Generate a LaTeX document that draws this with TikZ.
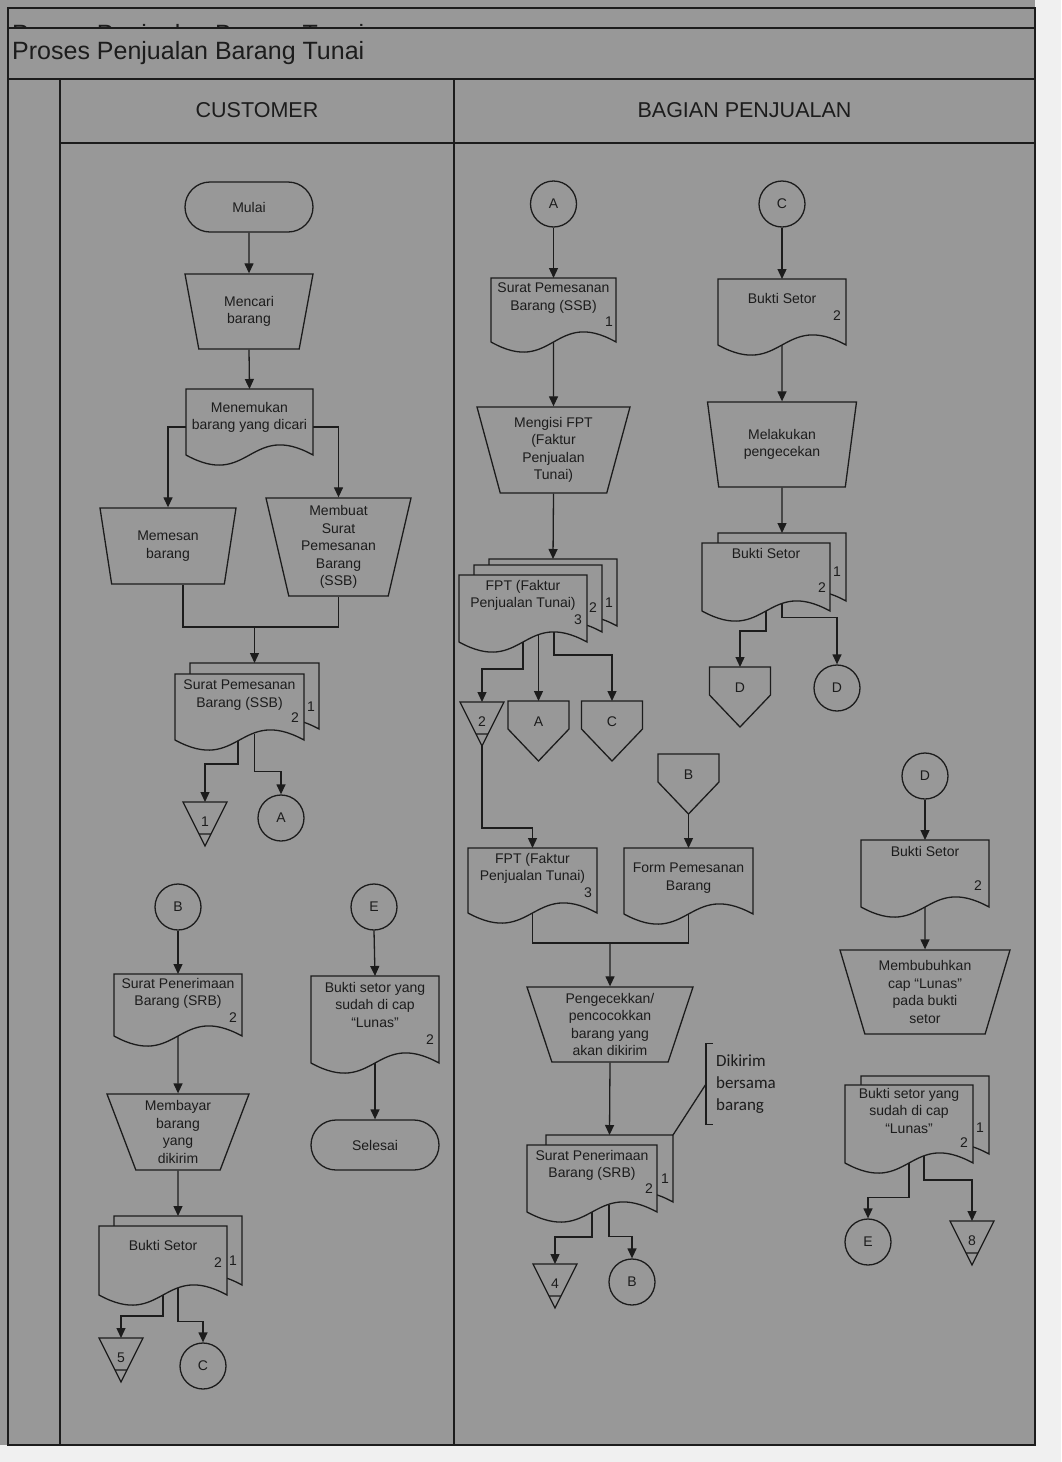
\documentclass[tikz,border=0pt]{standalone}
\usepackage{fontspec}
\setmainfont{Liberation Sans}
\newfontfamily\notefont{Carlito}
\usetikzlibrary{arrows.meta}
\usetikzlibrary{shapes.geometric}
\usetikzlibrary{calc}
\definecolor{paper}{RGB}{152,152,152}
\definecolor{ink}{RGB}{28,28,28}
\definecolor{page}{RGB}{240,240,240}
\pgfdeclarelayer{back}
\pgfdeclarelayer{wires}
\pgfsetlayers{back,wires,main}

% one sheet of a document symbol: name, left, top, width, height
\newcommand{\sheet}[5]{%
	\draw[outline] (#2,#3+#5) -- (#2,#3) -- (#2+#4,#3) -- (#2+#4,#3+#5)
		.. controls (#2+#4/2,#3+#5-35) and (#2+#4/2,#3+#5+35) .. (#2,#3+#5) -- cycle;
	\coordinate (#1) at (#2+#4/2,#3);
}
% front sheet with its text: name, left, top, width, height, text gap, text
\newcommand{\docu}[7]{%
	\sheet{#1-s}{#2}{#3}{#4}{#5}
	\node[txt, anchor=north, minimum width=#4, inner xsep=0pt, inner ysep=#6] (#1) at (#2+#4/2,#3) {#7};
}

\begin{document}
\begin{tikzpicture}[x=1pt, y=-1pt,
	txt/.style={font=\fontsize{14}{17.5}\selectfont, text=ink, align=center},
	outline/.style={draw=ink, line width=1.3pt, fill=paper},
	rim/.style={draw=ink, line width=1.3pt},
	lane/.style={draw=ink, line width=1.5pt},
	term/.style={outline, txt, rectangle, rounded corners=25pt, minimum width=128pt, minimum height=50pt},
	conn/.style={outline, txt, circle, minimum size=46pt, inner sep=0pt},
	manop/.style={outline, txt, trapezium, shape border rotate=180, trapezium stretches body=true,
		trapezium left angle=#1, trapezium right angle=#1, inner sep=1pt},
	flow/.style={draw=ink, line width=1.3pt, -{Triangle[length=10pt,width=9pt]}},
	wire/.style={draw=ink, line width=1.3pt},
	title/.style={font=\fontsize{25}{30}\selectfont, text=ink, inner sep=0pt},
	head/.style={font=\fontsize{21.5}{26}\selectfont, text=ink},
	note/.style={font=\notefont\fontsize{17}{22}\selectfont, text=ink, align=left, inner xsep=0pt, inner ysep=11pt}]
\useasboundingbox (0,0) rectangle (1061,1462);

% frame and lanes
\begin{pgfonlayer}{back}
\fill[page] (0,0) rectangle (1061,1462);
\fill[paper] (0,0) rectangle (1035,1445);
\draw[lane] (8,8) rectangle (1035,1445);
\draw[lane] (8,28) -- (1035,28) (8,79) -- (1035,79) (60,143) -- (1035,143);
\draw[lane] (60,79) -- (60,1445) (454,79) -- (454,1445);
\end{pgfonlayer}
\begin{scope}
\clip (8,8) rectangle (1035,27);
\node[title, anchor=west] (ghost) at (12,36) {Proses Penjualan Barang Tunai};
\end{scope}
\node[title, anchor=west] (judul) at (12,53) {Proses Penjualan Barang Tunai};
\node[head] (cust) at (257,110) {CUSTOMER};
\node[head] (bagian) at (744.5,110) {BAGIAN PENJUALAN};

% customer
\node[term] (mulai) at (249,207) {Mulai};
\node[manop=67, minimum width=128, minimum height=75] (mencari) at (249,311.5) {Mencari\\barang};
\docu{menem}{186}{389}{127}{66}{13}{Menemukan\\barang yang dicari}
\node[manop=70, minimum width=136, minimum height=76] (memesan) at (168,546) {Memesan\\barang};
\node[manop=75, minimum width=145, minimum height=98] (membuat) at (338.5,547) {Membuat\\Surat\\Pemesanan\\Barang\\(SSB)};
\sheet{ssbcB}{190}{663}{129}{66}
\docu{ssbc}{175}{674}{129}{66}{6}{Surat Pemesanan\\Barang (SSB)}
\node[txt] (ssbc-n2) at (295,718) {2};
\node[txt] (ssbc-n1) at (311,707) {1};
\docu{srbc}{114}{974}{128}{62}{4}{Surat Penerimaan\\Barang (SRB)}
\node[txt] (srbc-n2) at (233,1018) {2};
\node[manop=66, minimum width=142, minimum height=76] (membayar) at (178,1132) {Membayar\\barang\\yang\\dikirim};
\sheet{bscB}{114}{1216}{128}{69}
\docu{bsc}{99}{1226}{128}{69}{14}{Bukti Setor}
\node[txt] (bsc-n2) at (218,1263) {2};
\node[txt] (bsc-n1) at (233,1261) {1};
\docu{lunas}{311}{976}{128}{87}{6}{Bukti setor yang\\sudah di cap\\“Lunas”}
\node[txt] (lunas-n2) at (430,1040) {2};
\node[term] (selesai) at (375,1145) {Selesai};

% bagian penjualan
\docu{ssbp}{491}{278}{125}{64}{5}{Surat Pemesanan\\Barang (SSB)}
\node[txt] (ssbp-n1) at (609,322) {1};
\node[manop=71, minimum width=153, minimum height=86] (mengisi) at (553.5,450) {Mengisi FPT\\(Faktur\\Penjualan\\Tunai)};
\sheet{fptB}{489}{559}{128}{67}
\sheet{fptC}{474}{565}{128}{67}
\docu{fpt}{459}{575}{128}{67}{5}{FPT (Faktur\\Penjualan Tunai)}
\node[txt] (fpt-n3) at (578,620) {3};
\node[txt] (fpt-n2) at (593,608) {2};
\node[txt] (fpt-n1) at (609,603) {1};
\docu{fptk}{468}{848}{129}{65}{5}{FPT (Faktur\\Penjualan Tunai)}
\node[txt] (fptk-n3) at (588,893) {3};
\docu{form}{624}{848}{129}{66}{15}{Form Pemesanan\\Barang}
\node[manop=69, minimum width=166, minimum height=75] (cocok) at (610,1024.5) {Pengecekkan/\\pencocokkan\\barang yang\\akan dikirim};
\sheet{srbpB}{546}{1135}{127}{67}
\docu{srbp}{527}{1145}{130}{67}{5}{Surat Penerimaan\\Barang (SRB)}
\node[txt] (srbp-n2) at (649,1189) {2};
\node[txt] (srbp-n1) at (665,1179) {1};
\node[note, anchor=west] (kirim) at (716,1084) {Dikirim\\bersama\\barang};
\draw[wire] ([xshift=-3pt]kirim.north west) -- ([xshift=-10pt]kirim.north west) -- ([xshift=-10pt]kirim.south west) -- ([xshift=-3pt]kirim.south west);

\docu{bsp}{718}{279}{128}{66}{14}{Bukti Setor}
\node[txt] (bsp-n2) at (837,316) {2};
\node[manop=71, minimum width=149, minimum height=85] (cek) at (782,444.5) {Melakukan\\pengecekan};
\sheet{bsdB}{718}{533}{128}{68}
\docu{bsd}{702}{543}{128}{68}{5}{Bukti Setor}
\node[txt] (bsd-n2) at (822,588) {2};
\node[txt] (bsd-n1) at (837,572) {1};
\docu{bse}{861}{840}{128}{67}{6}{Bukti Setor}
\node[txt] (bse-n2) at (978,886) {2};
\node[manop=69, minimum width=170, minimum height=84] (cap) at (925,992) {Membubuhkan\\cap “Lunas”\\pada bukti\\setor};
\sheet{lunasB}{861}{1076}{128}{78}
\docu{lunask}{845}{1085}{128}{78}{3}{Bukti setor yang\\sudah di cap\\“Lunas”}
\node[txt] (lunask-n2) at (964,1143) {2};
\node[txt] (lunask-n1) at (980,1128) {1};

% connectors on page
\foreach \n/\x/\y/\t in {ca/281/818/A, cb/178/907/B, cc/203/1366/C, ce/374/907/E, pa/553.5/204/A,
	pc/782/204/C, pd/837/688/D, rd/925/776/D, pb/632/1282/B, re/868/1242/E}
	\node[conn] (\n) at (\x,\y) {\t};
% offline storage
\foreach \n/\x/\y/\t in {s1/205/802/1, s5/121/1338/5, s2/482/702/2, s4/555/1264/4, s8/972/1221/8} {
	\node[txt] (\n) at (\x,\y+20) {\t};
	\draw[rim] (\x-22,\y) -- (\x+22,\y) -- (\x,\y+44) -- cycle (\x-6,\y+32) -- (\x+6,\y+32);
	\coordinate (\n-in) at (\x,\y);
	\coordinate (\n-out) at (\x,\y+44);
}
% off-page
\foreach \n/\x/\y/\t in {oa/538.5/701/A, oc/612/701/C, ob/688.5/754/B, od/740/667/D} {
	\node[txt] (\n) at (\x,\y+21) {\t};
	\draw[rim] (\x-30.5,\y) -- (\x+30.5,\y) -- (\x+30.5,\y+28) -- (\x,\y+60) -- (\x-30.5,\y+28) -- cycle;
	\coordinate (\n-in) at (\x,\y);
	\coordinate (\n-out) at (\x,\y+60);
}

\coordinate (j1) at (254.5,627);
\coordinate (j2) at (610,943);
\begin{pgfonlayer}{wires}
\draw[flow] (mulai.south) -- (mencari.north);
\draw[flow] (mencari.south) -- (menem.north);
\draw[flow] ([yshift=-38pt]menem.north west) -| (memesan.north);
\draw[flow] ([yshift=-38pt]menem.north east) -| (membuat.north);
\draw[wire] ([xshift=15pt]memesan.south) |- (j1) -| (membuat.south);
\draw[flow] (j1) -- (ssbcB);
\draw[flow] ([xshift=-1.5pt,yshift=-60pt]ssbc.north) |- ([yshift=38pt]s1-in) -- (s1-in);
\draw[flow] ([xshift=15pt,yshift=-60pt]ssbc.north) |- ([yshift=23pt]ca.north) -- (ca.north);
\draw[flow] (cb.south) -- (srbc.north);
\draw[flow] ([yshift=-50pt]srbc.north) -- (membayar.north);
\draw[flow] (membayar.south) -- (bscB);
\draw[flow] ([yshift=-60pt]bsc.north) |- ([yshift=22pt]s5-in) -- (s5-in);
\draw[flow] ([xshift=15pt,yshift=-60pt]bsc.north) |- ([yshift=21pt]cc.north) -- (cc.north);
\draw[flow] (ce.south) -- (lunas.north);
\draw[flow] ([yshift=-60pt]lunas.north) -- (selesai.north);

\draw[flow] (pa.south) -- (ssbp.north);
\draw[flow] ([yshift=-40pt]ssbp.north) -- (mengisi.north);
\draw[flow] (mengisi.south) -- (fptB);
\draw[flow] ([yshift=-50pt]fpt.north) |- ([yshift=33pt]s2-in) -- (s2-in);
\draw[flow] ([xshift=15.5pt,yshift=-50pt]fpt.north) -- (oa-in);
\draw[flow] ([xshift=31pt,yshift=-50pt]fpt.north) |- ([yshift=46pt]oc-in) -- (oc-in);
\draw[flow] (s2-out) |- ([yshift=20pt]fptk.north) -- (fptk.north);
\draw[flow] (ob-out) -- (form.north);
\draw[wire] ([yshift=-40pt]fptk.north) |- (j2) -| ([yshift=-40pt]form.north);
\draw[flow] (j2) -- (cocok.north);
\draw[flow] (cocok.south) -- (srbpB);
\draw[flow] ([yshift=-60pt]srbp.north) |- ([yshift=27pt]s4-in) -- (s4-in);
\draw[flow] ([xshift=17pt,yshift=-60pt]srbp.north) |- ([yshift=22pt]pb.north) -- (pb.north);
\draw[wire] ([xshift=63.5pt]srbpB) -- ([xshift=-10pt]kirim.west);

\draw[flow] (pc.south) -- (bsp.north);
\draw[flow] ([yshift=-40pt]bsp.north) -- (cek.north);
\draw[flow] (cek.south) -- (bsdB);
\draw[flow] ([yshift=-50pt]bsd.north) |- ([yshift=36pt]od-in) -- (od-in);
\draw[flow] ([xshift=16pt,yshift=-50pt]bsd.north) |- ([yshift=47pt]pd.north) -- (pd.north);
\draw[flow] (rd.south) -- (bse.north);
\draw[flow] ([yshift=-40pt]bse.north) -- (cap.north);
\draw[flow] ([yshift=-60pt]lunask.north) |- ([yshift=21pt]re.north) -- (re.north);
\draw[flow] ([xshift=15pt,yshift=-60pt]lunask.north) |- ([yshift=41pt]s8-in) -- (s8-in);
\end{pgfonlayer}
\end{tikzpicture}
\end{document}
